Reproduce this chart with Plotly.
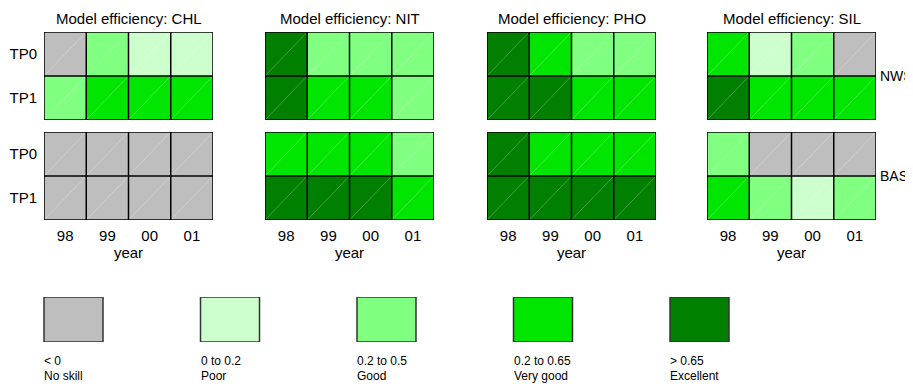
import plotly.graph_objects as go

# ---------------- data ----------------
variables = ["CHL", "NIT", "PHO", "SIL"]
years = ["98", "99", "00", "01"]
tp_rows = ["TP0", "TP1"]
regions = ["NWS", "BAS"]

# category codes: 0=No skill, 1=Poor, 2=Good, 3=Very good, 4=Excellent
CHL_NWS = [[0, 2, 1, 1], [2, 3, 3, 3]]
CHL_BAS = [[0, 0, 0, 0], [0, 0, 0, 0]]
NIT_NWS = [[4, 2, 2, 2], [4, 3, 3, 2]]
NIT_BAS = [[3, 3, 3, 2], [4, 4, 4, 3]]
PHO_NWS = [[4, 3, 2, 2], [4, 4, 3, 3]]
PHO_BAS = [[4, 3, 3, 3], [4, 4, 4, 4]]
SIL_NWS = [[3, 1, 2, 0], [4, 3, 3, 3]]
SIL_BAS = [[2, 0, 0, 0], [3, 2, 1, 2]]

grids = {
    ("CHL", "NWS"): CHL_NWS, ("CHL", "BAS"): CHL_BAS,
    ("NIT", "NWS"): NIT_NWS, ("NIT", "BAS"): NIT_BAS,
    ("PHO", "NWS"): PHO_NWS, ("PHO", "BAS"): PHO_BAS,
    ("SIL", "NWS"): SIL_NWS, ("SIL", "BAS"): SIL_BAS,
}

cat_colors = ["#BEBEBE", "#CCFFCC", "#80FF80", "#00E600", "#007F00"]
cat_range = ["< 0", "0 to 0.2", "0.2 to 0.5", "0.2 to 0.65", "> 0.65"]
cat_names = ["No skill", "Poor", "Good", "Very good", "Excellent"]

# ---------------- layout geometry (page pixels) ----------------
OFF = 8                      # page body margin
W, H = 913 - OFF, 392 - OFF  # figure size
panel_left = [44, 265, 487, 707]
panel_w = 169
block_top = {"NWS": 32, "BAS": 132}
block_h = 88


def px(x):
    return (x - OFF) / W


def py(y):
    return 1 - (y - OFF) / H


FONT = "Liberation Sans, Arial, sans-serif"
TXT = "#000000"
FS = 15

ncat = len(cat_colors)
colorscale = []
for i, c in enumerate(cat_colors):
    colorscale.append([i / ncat, c])
    colorscale.append([(i + 1) / ncat, c])

fig = go.Figure()
layout = {}
annotations = []

ax_i = 0
for vi, var in enumerate(variables):
    for region in regions:
        ax_i += 1
        xa = "x" if ax_i == 1 else f"x{ax_i}"
        ya = "y" if ax_i == 1 else f"y{ax_i}"
        z = grids[(var, region)]
        nrow, ncol = len(z), len(z[0])
        fig.add_trace(go.Heatmap(
            z=z, x=list(range(ncol)), y=list(range(nrow)),
            colorscale=colorscale, zmin=-0.5, zmax=ncat - 0.5,
            showscale=False, hoverinfo="skip", xaxis=xa, yaxis=ya,
        ))
        # faint diagonal rendering artefacts in each cell
        dx, dy = [], []
        for r in range(nrow):
            for c in range(ncol):
                dx += [c - 0.5, c + 0.5, None]
                dy += [r + 0.5, r - 0.5, None]
        fig.add_trace(go.Scatter(x=dx, y=dy, mode="lines",
                                 line=dict(color="rgba(255,255,255,0.3)", width=0.8),
                                 hoverinfo="skip", showlegend=False,
                                 xaxis=xa, yaxis=ya))
        # cell borders
        bx, by = [], []
        for c in range(ncol + 1):
            bx += [c - 0.5, c - 0.5, None]
            by += [-0.5, nrow - 0.5, None]
        for r in range(nrow + 1):
            bx += [-0.5, ncol - 0.5, None]
            by += [r - 0.5, r - 0.5, None]
        fig.add_trace(go.Scatter(x=bx, y=by, mode="lines",
                                 line=dict(color="#000000", width=1.5),
                                 hoverinfo="skip", showlegend=False,
                                 xaxis=xa, yaxis=ya))

        yt = block_top[region]
        bottom = region == regions[-1]
        layout["xaxis" if ax_i == 1 else f"xaxis{ax_i}"] = dict(
            domain=[px(panel_left[vi]), px(panel_left[vi] + panel_w)],
            anchor=ya, range=[-0.5, ncol - 0.5],
            tickvals=list(range(ncol)), ticktext=years,
            showticklabels=bottom, ticks="outside", ticklen=2,
            tickcolor="rgba(0,0,0,0)", showgrid=False, zeroline=False,
            showline=False, fixedrange=True,
            tickfont=dict(family=FONT, size=FS, color=TXT),
            title=dict(text="year" if bottom else "", standoff=0,
                       font=dict(family=FONT, size=FS, color=TXT)),
        )
        layout["yaxis" if ax_i == 1 else f"yaxis{ax_i}"] = dict(
            domain=[py(yt + block_h), py(yt)], anchor=xa,
            range=[nrow - 0.5, -0.5],
            tickvals=list(range(nrow)), ticktext=tp_rows,
            showticklabels=(vi == 0), ticks="outside", ticklen=3,
            tickcolor="rgba(0,0,0,0)", showgrid=False, zeroline=False,
            showline=False, fixedrange=True,
            tickfont=dict(family=FONT, size=FS, color=TXT),
        )
        if vi == len(variables) - 1:
            annotations.append(dict(
                text=region, xref="paper", yref="paper",
                x=px(panel_left[vi] + panel_w + 2),
                y=py(yt + block_h / 2), xanchor="left", yanchor="middle",
                showarrow=False, font=dict(family=FONT, size=14, color=TXT)))
    annotations.append(dict(
        text=f"Model efficiency: {var}", xref="paper", yref="paper",
        x=px(panel_left[vi] + panel_w / 2), y=1,
        xanchor="center", yanchor="top", showarrow=False,
        font=dict(family=FONT, size=FS, color=TXT)))

# ---------------- colour key ----------------
ax_i += 1
kx = f"x{ax_i}"
ky = f"y{ax_i}"
step = 156.5
first_center = 73.5 - OFF
box_w = 59 / step
r0 = -first_center / step
r1 = r0 + W / step
fig.add_trace(go.Bar(
    x=list(range(ncat)), y=[1] * ncat, base=0, width=box_w,
    marker=dict(color=cat_colors, line=dict(color="#333333", width=1.5)),
    hoverinfo="skip", showlegend=False, xaxis=kx, yaxis=ky))
layout[f"xaxis{ax_i}"] = dict(domain=[0, 1], anchor=ky, range=[r0, r1],
                              visible=False, fixedrange=True)
layout[f"yaxis{ax_i}"] = dict(domain=[py(342), py(297)], anchor=kx,
                              range=[0, 1], visible=False, fixedrange=True)
for i in range(ncat):
    annotations.append(dict(
        text=cat_range[i], xref=kx, yref="paper", x=i - box_w / 2,
        y=py(361), xanchor="left", yanchor="middle", showarrow=False,
        xshift=-2, font=dict(family=FONT, size=12, color=TXT)))
    annotations.append(dict(
        text=cat_names[i], xref=kx, yref="paper", x=i - box_w / 2,
        y=py(376), xanchor="left", yanchor="middle", showarrow=False,
        xshift=-2, font=dict(family=FONT, size=12, color=TXT)))

fig.update_layout(
    width=W, height=H, margin=dict(l=0, r=0, t=0, b=0),
    paper_bgcolor="white", plot_bgcolor="white",
    showlegend=False, annotations=annotations, **layout)

fig.write_html("out.html")
